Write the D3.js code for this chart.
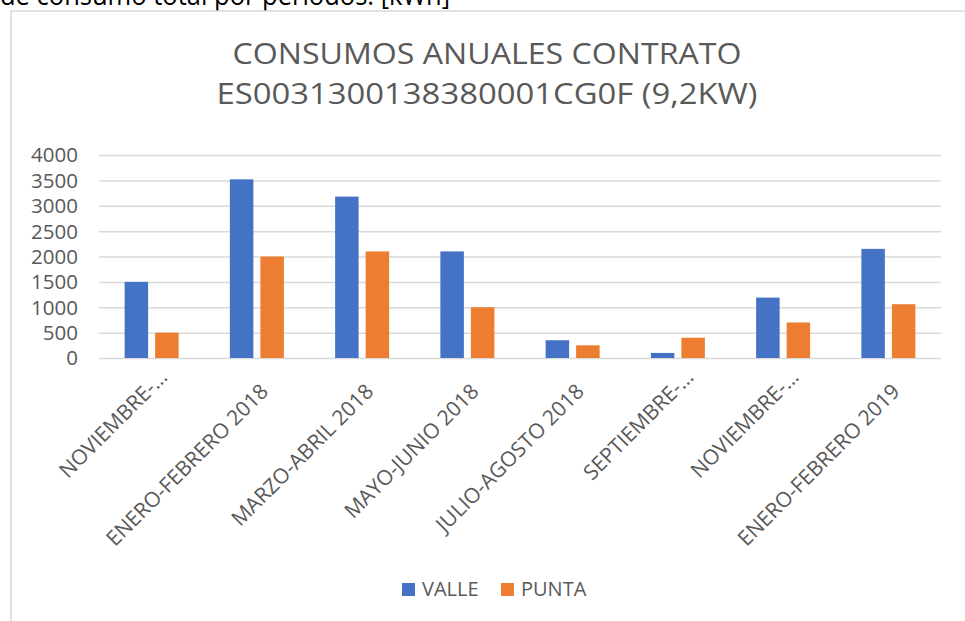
<!DOCTYPE html>
<html>
<head>
  <meta charset="utf8" />
  <style>
    body {
      margin: 0;
      background: #fff;
    }
    text {
      font-family: "Open Sans", sans-serif;
      fill: #595959;
    }
    .grid line {
      stroke: #d9d9d9;
      stroke-width: 1.5px;
    }
  </style>
</head>
<body>
  <script src="https://d3js.org/d3.v7.min.js"></script>

  <script>
    var categories = [
      "NOVIEMBRE-…",
      "ENERO-FEBRERO 2018",
      "MARZO-ABRIL 2018",
      "MAYO-JUNIO 2018",
      "JULIO-AGOSTO 2018",
      "SEPTIEMBRE-…",
      "NOVIEMBRE-…",
      "ENERO-FEBRERO 2019"
    ];
    var series = ["VALLE", "PUNTA"];
    var valle = [1500, 3520, 3180, 2100, 350, 100, 1190, 2150];
    var punta = [500, 2000, 2100, 1000, 250, 400, 700, 1060];
    var yTicks = [0, 500, 1000, 1500, 2000, 2500, 3000, 3500, 4000];
    var colors = ["#4472c4", "#ed7d31"];
    var titleLines = ["CONSUMOS ANUALES CONTRATO", "ES0031300138380001CG0F (9,2KW)"];
    var titleWidths = [509, 541];
    var caption = "de consumo total por periodos. [kWh]";

    var width = 965,
        height = 621;

    var svg = d3.select("body").append("svg")
        .attr("width", width)
        .attr("height", height);

    // text above the chart, cut by the top of the picture as in the source
    svg.append("text")
        .attr("x", 0)
        .attr("y", 5)
        .attr("textLength", 450)
        .attr("lengthAdjust", "spacingAndGlyphs")
        .style("fill", "#000")
        .style("font-size", "27px")
        .text(caption);

    // chart frame
    svg.append("rect")
        .attr("x", 11)
        .attr("y", 11)
        .attr("width", 1000)
        .attr("height", 700)
        .attr("fill", "#fff")
        .attr("stroke", "#d9d9d9")
        .attr("stroke-width", 1.5);

    svg.selectAll(".title")
        .data(titleLines)
      .enter().append("text")
        .attr("class", "title")
        .attr("x", 487)
        .attr("y", (d, i) => 64 + i * 40)
        .attr("text-anchor", "middle")
        .attr("textLength", (d, i) => titleWidths[i])
        .attr("lengthAdjust", "spacingAndGlyphs")
        .style("font-size", "30px")
        .text(d => d);

    var x0 = d3.scaleBand()
        .domain(d3.range(categories.length))
        .range([99, 941]);

    var x1 = d3.scaleBand()
        .domain(series)
        .range([0, x0.bandwidth()])
        .paddingInner(0.23)
        .paddingOuter(0.84);

    var y = d3.scaleLinear()
        .domain([0, 4000])
        .range([358, 155]);

    var grid = svg.append("g")
        .attr("class", "grid")
        .attr("transform", "translate(99,0)")
        .call(d3.axisLeft(y).tickValues(yTicks).tickSize(-842).tickFormat(""));
    grid.select(".domain").remove();

    svg.selectAll(".ylabel")
        .data(yTicks)
      .enter().append("text")
        .attr("class", "ylabel")
        .attr("x", 78)
        .attr("y", d => y(d))
        .attr("dy", "0.36em")
        .attr("text-anchor", "end")
        .style("font-size", "20.5px")
        .text(d => d);

    var rows = categories.map((c, i) => ({ i: i, values: [valle[i], punta[i]] }));

    var groups = svg.selectAll(".group")
        .data(rows)
      .enter().append("g")
        .attr("class", "group")
        .attr("transform", d => "translate(" + x0(d.i) + ",0)");

    groups.selectAll("rect")
        .data(d => d.values.map((v, k) => ({ key: series[k], value: v, k: k })))
      .enter().append("rect")
        .attr("x", d => x1(d.key))
        .attr("width", x1.bandwidth())
        .attr("y", d => y(d.value))
        .attr("height", d => y(0) - y(d.value))
        .attr("fill", d => colors[d.k]);

    // rotated category labels
    svg.selectAll(".xlabel")
        .data(categories)
      .enter().append("text")
        .attr("class", "xlabel")
        .attr("transform", (d, i) => "translate(" + (x0(i) + x0.bandwidth() / 2 + 2) + ",382) rotate(-45)")
        .attr("x", d => d.endsWith("…") ? 13 : 0)
        .attr("y", d => d.endsWith("…") ? -7 : 0)
        .attr("dy", "0.72em")
        .attr("text-anchor", "end")
        .style("font-size", "21px")
        .text(d => d);

    // legend
    var legend = svg.selectAll(".legend")
        .data(series)
      .enter().append("g")
        .attr("class", "legend")
        .attr("transform", (d, i) => "translate(" + (402 + i * 99) + ",583)");

    legend.append("rect")
        .attr("width", 13)
        .attr("height", 13)
        .attr("fill", (d, i) => colors[i]);

    legend.append("text")
        .attr("x", 20)
        .attr("y", 13)
        .style("font-size", "20px")
        .text(d => d);
  </script>
</body>
</html>
